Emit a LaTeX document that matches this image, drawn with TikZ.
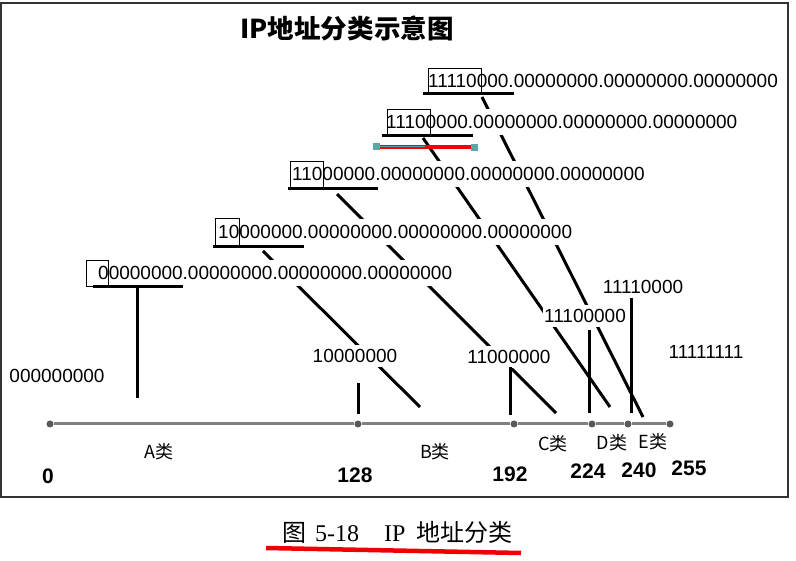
\documentclass[tikz,border=0pt]{standalone}
\usepackage{fontspec}
\setmainfont{Liberation Sans}
\newfontfamily\cjk{Noto Sans CJK SC}
\newfontfamily\capserif{Liberation Serif}
\usetikzlibrary{positioning}
\definecolor{markteal}{RGB}{88,168,168}
\definecolor{markred}{RGB}{240,0,0}
\tikzstyle{bits} = [anchor=west, inner xsep=0pt, inner ysep=0pt, minimum height=26pt, fill=white, font=\fontsize{19}{22}\selectfont]
\tikzstyle{octet} = [inner xsep=1pt, inner ysep=0pt, minimum height=22pt, fill=white, font=\fontsize{19}{22}\selectfont]
\tikzstyle{prefixbox} = [draw, line width=0.8pt]
\tikzstyle{thickbar} = [line width=3pt]
\tikzstyle{axisline} = [line width=3pt, gray]
\tikzstyle{axisdot} = [circle, fill=gray!70!black, inner sep=0pt, minimum size=7pt]
\tikzstyle{cls} = [font=\cjk\fontsize{18}{20}\selectfont]
\tikzstyle{num} = [font=\bfseries\fontsize{21}{24}\selectfont]

\begin{document}
\begin{tikzpicture}[x=1pt, y=-1pt]
        \useasboundingbox (0,0) rectangle (796,561);
        \draw[line width=1.5pt, black!80] (1,3) rectangle (788,497);
        \node[font=\cjk\bfseries\fontsize{26}{30}\selectfont] (title) at (347,28) {\scalebox{1.02}[1]{IP地址分类示意图}};
        \coordinate (dB1) at (263,251);
        \coordinate (dB2) at (420,407);
        \coordinate (dC1) at (337,194);
        \coordinate (dC2) at (556,413);
        \coordinate (dD1) at (423,138);
        \coordinate (dD2) at (610,407);
        \coordinate (dE1) at (482,97);
        \coordinate (dE2) at (643,417);
        \draw[thickbar] (dB1) -- (dB2);
        \draw[thickbar] (dC1) -- (dC2);
        \draw[thickbar] (dD1) -- (dD2);
        \draw[thickbar] (dE1) -- (dE2);
        \node[bits] (rowA) at (98,273) {00000000.00000000.00000000.00000000};
        \node[bits] (rowB) at (218,232) {10000000.00000000.00000000.00000000};
        \node[bits] (rowC) at (292,174) {11000000.00000000.00000000.00000000};
        \node[bits] (rowD) at (386,122) {11100000.00000000.00000000.00000000};
        \node[bits] (rowE) at (428,81) {11110000.00000000.00000000.00000000};
        \draw[prefixbox] (86,260) rectangle (108,286);
        \draw[prefixbox] (215,218) rectangle (239,246);
        \draw[prefixbox] (290,161) rectangle (323,187);
        \draw[prefixbox] (387,109) rectangle (430,135);
        \draw[prefixbox] (428,68) rectangle (481,93);
        \draw[thickbar] (93,287) -- (183,287);
        \draw[thickbar] (213,247) -- (304,247);
        \draw[thickbar] (288,189) -- (378,189);
        \draw[thickbar] (382,136) -- (473,136);
        \draw[thickbar] (423,94) -- (514,94);
        \draw[markred, line width=4pt] (378,147) -- (473,147);
        \draw[markteal, line width=0.6pt] (380,146) -- (425,146);
        \fill[markteal] (373,143) rectangle (380,150);
        \fill[markteal] (471,144) rectangle (478,151);
        \node[octet] (lab0) at (57,376) {000000000};
        \node[octet] (lab128) at (355,356) {10000000};
        \node[octet] (lab192) at (509,357) {11000000};
        \node[octet] (lab224) at (585,316) {11100000};
        \node[octet] (lab240) at (643,287) {11110000};
        \node[octet] (lab255) at (706,352) {11111111};
        \coordinate (vA1) at (137,287);
        \coordinate (vA2) at (137,398);
        \coordinate (v1281) at (358,383);
        \coordinate (v1282) at (358,414);
        \coordinate (v1921) at (510,367);
        \coordinate (v1922) at (510,415);
        \coordinate (v2241) at (589,330);
        \coordinate (v2242) at (589,413);
        \coordinate (v2401) at (631,298);
        \coordinate (v2402) at (631,413);
        \draw[thickbar] (vA1) -- (vA2);
        \draw[thickbar] (v1281) -- (v1282);
        \draw[thickbar] (v1921) -- (v1922);
        \draw[thickbar] (v2241) -- (v2242);
        \draw[thickbar] (v2401) -- (v2402);
        \node[axisdot] (t0) at (50,424) {};
        \node[axisdot] (t128) at (358,424) {};
        \node[axisdot] (t192) at (514,424) {};
        \node[axisdot] (t224) at (592,424) {};
        \node[axisdot] (t240) at (628,424) {};
        \node[axisdot] (t255) at (670,424) {};
        \draw[axisline] (t0) -- (t128) -- (t192) -- (t224) -- (t240) -- (t255);
        \node[cls] (clsA) at (159,452) {A类};
        \node[cls] (clsB) at (435,452) {B类};
        \node[cls] (clsC) at (553,444) {C类};
        \node[cls] (clsD) at (612,443) {D类};
        \node[cls] (clsE) at (653,442) {E类};
        \node[num] (n0) at (48,476) {0};
        \node[num] (n128) at (355,475) {128};
        \node[num] (n192) at (510,474) {192};
        \node[num] (n224) at (588,471) {224};
        \node[num] (n240) at (639,470) {240};
        \node[num] (n255) at (689,468) {255};
        \node[anchor=base west, inner sep=0pt, font=\fontsize{24}{28}\selectfont] (cap) at (282,541) {{\cjk 图}\hspace{9pt}{\capserif 5-18}\hspace{25pt}{\capserif IP}\hspace{11pt}{\cjk 地址分类}};
        \draw[markred, line width=4.5pt] (266,548) -- (521,553);
    \end{tikzpicture}
\end{document}
